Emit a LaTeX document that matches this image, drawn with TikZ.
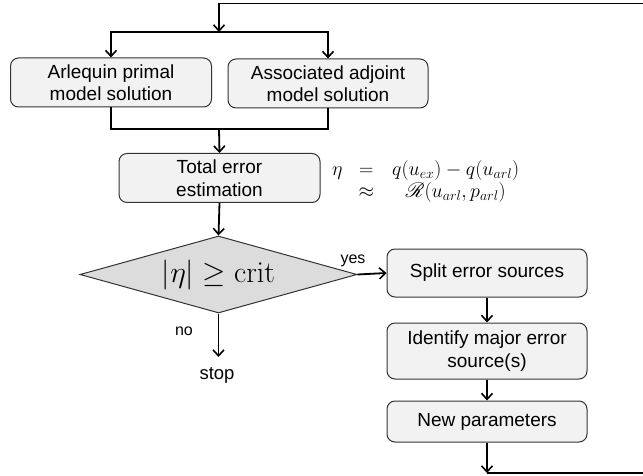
\RequirePackage{fix-cm}
\documentclass[tikz,border=0pt]{standalone}
\usepackage{amsmath,amssymb}
\usepackage{mathrsfs}
\usepackage[no-math]{fontspec}
\setmainfont{Liberation Sans}
\usetikzlibrary{shapes.geometric,arrows.meta}
\definecolor{boxfill}{HTML}{F2F2F2}
\definecolor{boxline}{HTML}{333333}
\definecolor{diafill}{HTML}{DCDCDC}
\begin{document}
\begin{tikzpicture}[x=1pt,y=-1pt,
  box/.style={draw=boxline, fill=boxfill, rounded corners=8pt, line width=1pt,
    font=\fontsize{19}{22.5}\selectfont, align=center,
    minimum width=201pt, minimum height=49pt, inner sep=0pt},
  conn/.style={line width=1.8pt, draw=black},
  arr/.style={conn, -{Straight Barb[length=6pt,width=11pt,line width=1.6pt]}},
  lbl/.style={font=\fontsize{16}{19}\selectfont, inner sep=0pt}]
\useasboundingbox (0,0) rectangle (643,476);

\node[box] (arl) at (111,82.5) {Arlequin primal\\model solution};
\node[box, minimum width=200pt] (adj) at (328,83.5) {Associated adjoint\\model solution};
\node[box] (tot) at (219.5,178) {Total error\\estimation};
\node[diamond, draw=boxline, fill=diafill, line width=1pt, aspect=3.6,
      minimum width=277pt, minimum height=77pt, inner sep=0pt] (dec) at (218.5,274.5)
      {\fontsize{30}{36}\selectfont $|\eta|\geq\mathrm{crit}$};
\node[anchor=west, inner sep=0pt, font=\fontsize{20}{22}\selectfont] (eq) at (332,182)
  {$\begin{array}{@{}r@{\hspace{16pt}}c@{\hspace{18pt}}c@{}}
     \eta & = & q(u_{ex})-q(u_{arl}) \\
          & \approx & \mathscr{R}(u_{arl},p_{arl})
   \end{array}$};

\node[box, minimum width=200pt, minimum height=48pt] (split) at (487,273) {Split error sources};
\node[box, minimum width=200pt, minimum height=56pt] (ident) at (487,351) {Identify major error\\source(s)};
\node[box, minimum width=200pt, minimum height=41pt] (newp) at (487,421.5) {New parameters};

\node[lbl, anchor=base] (yes) at (353,263) {yes};
\node[lbl, anchor=base] (no) at (184,335) {no};
\node[font=\fontsize{18.5}{22}\selectfont, anchor=base, inner sep=0pt] (stop) at (217,379) {stop};

\coordinate (tr) at (643,3.5);
\coordinate (tl) at (219,3.5);
\coordinate (j1) at (219,32);
\coordinate (j2) at (219,129);
\coordinate (sa) at (218.5,357);
\coordinate (bl) at (487,473);
\coordinate (br) at (643,473);

\draw[conn] (tr) -- (tl);
\draw[arr] (tl) -- (j1);
\draw[arr] (j1) -| (arl.north);
\draw[arr] (j1) -| (adj.north);
\draw[conn] (arl.south) |- (j2) -| (adj.south);
\draw[arr] (j2) -- (tot.north);
\draw[arr] (tot.south) -- (dec.north);
\draw[arr] (dec.east) -- (split.west);
\draw[arr] (dec.south) -- (sa);
\draw[arr] (split.south) -- (ident.north);
\draw[arr] (ident.south) -- (newp.north);
\draw[arr] (newp.south) -- (bl);
\draw[conn] (bl) -- (br);
\end{tikzpicture}
\end{document}
